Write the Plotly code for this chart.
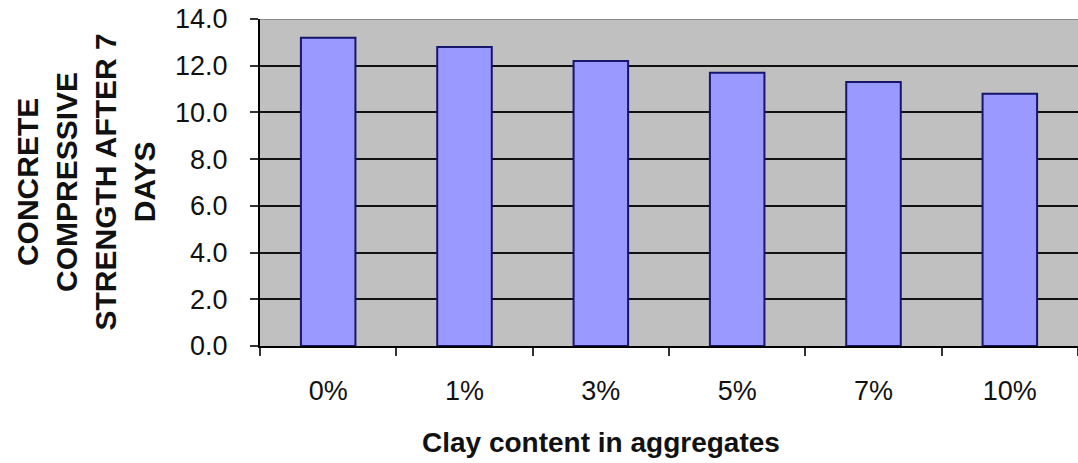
import plotly.graph_objects as go

categories = ["0%", "1%", "3%", "5%", "7%", "10%"]
strength = [13.2, 12.8, 12.2, 11.7, 11.3, 10.8]
y_ticks = [0, 2, 4, 6, 8, 10, 12, 14]
y_tick_labels = [f"{v:.1f}" for v in y_ticks]

font_family = "Liberation Sans, Arial, sans-serif"

fig = go.Figure()
fig.add_trace(go.Bar(
    x=categories,
    y=strength,
    width=0.4,
    marker=dict(color="#9999ff", line=dict(color="#16166a", width=2)),
))

fig.update_layout(
    width=1078,
    height=463,
    margin=dict(l=260, r=0, t=19, b=117),
    paper_bgcolor="white",
    plot_bgcolor="#c0c0c0",
    showlegend=False,
    font=dict(family=font_family, color="#111111"),
    bargap=0.6,
)

fig.update_xaxes(
    type="category",
    showgrid=False,
    showline=True,
    linecolor="black",
    linewidth=2,
    ticks="outside",
    tickson="boundaries",
    ticklen=8,
    tickwidth=2,
    tickcolor="#333333",
    tickfont=dict(size=27, color="#111111"),
    ticklabelstandoff=20,
)

fig.update_yaxes(
    range=[0, 14],
    tickvals=y_ticks,
    ticktext=y_tick_labels,
    showgrid=True,
    gridcolor="#111111",
    gridwidth=2,
    zeroline=False,
    showline=True,
    linecolor="black",
    linewidth=2,
    ticks="outside",
    ticklen=8,
    tickwidth=2,
    tickcolor="#333333",
    tickfont=dict(size=27, color="#111111"),
    ticklabelstandoff=17,
)

# top border of plot area
fig.add_shape(type="line", xref="paper", yref="y", x0=0, x1=1, y0=14, y1=14,
              line=dict(color="#8a8a8a", width=2))

fig.add_annotation(
    text="Clay content in aggregates",
    xref="paper", yref="paper",
    x=(601 - 260) / (1078 - 260), y=0,
    yshift=-96, yanchor="middle", xanchor="center",
    showarrow=False,
    font=dict(size=28, family=font_family, color="#111111", weight="bold"),
)

fig.add_annotation(
    text="CONCRETE<br>COMPRESSIVE<br>STRENGTH AFTER 7<br>DAYS",
    xref="paper", yref="paper",
    x=0, y=0.5,
    xshift=-175, xanchor="center", yanchor="middle",
    textangle=-90,
    showarrow=False,
    align="center",
    font=dict(size=30, family=font_family, color="#111111", weight="bold"),
)

fig.write_html("out.html")
